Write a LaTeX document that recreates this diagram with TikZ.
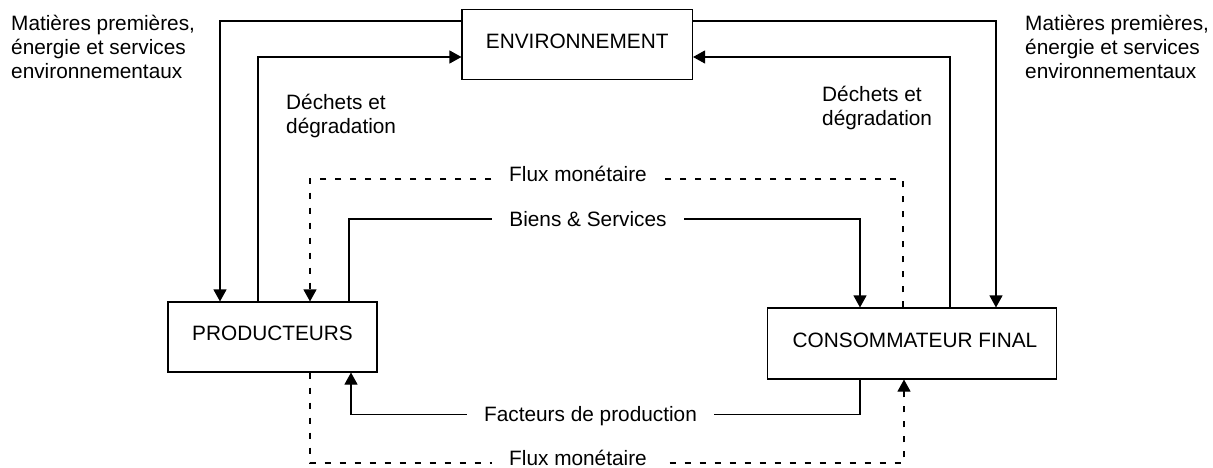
\documentclass[tikz,border=0pt]{standalone}
\usepackage{fontspec}
\setmainfont{Liberation Sans}
\usetikzlibrary{arrows.meta}
\begin{document}
\begin{tikzpicture}[x=1pt,y=-1pt,
  every node/.style={font=\fontsize{20.8}{24}\selectfont},
  box/.style={draw,line width=1.1pt,inner sep=0pt,text height=14.5pt,text depth=7pt},
  conn/.style={line width=1.1pt},
  arr/.style={-{Triangle[width=13pt,length=12pt]}},
  dsh/.style={dash pattern=on 6pt off 9pt},
  lbl/.style={fill=white,inner xsep=17pt,inner ysep=1pt,anchor=base},
  txt/.style={align=left,anchor=north west,inner sep=0pt}]
\useasboundingbox (0,0) rectangle (1213,468);
% boxes
\node[box,minimum width=230.5pt,minimum height=70pt] (env) at (577.25,44.3) {ENVIRONNEMENT};
\node[box,minimum width=209pt,minimum height=70pt] (prod) at (272.5,337) {PRODUCTEURS};
\node[box,minimum width=289pt,minimum height=71pt] (cons) at (912,343.5) {\hspace*{6pt}CONSOMMATEUR FINAL};
% environment flows
\draw[conn,arr] (env.west |- 0,21) -| (prod.north -| 220,0);
\draw[conn,arr] (prod.north -| 258,0) |- (env.west |- 0,57);
\draw[conn,arr] (cons.north -| 950,0) |- (env.east |- 0,57);
\draw[conn,arr] (env.east |- 0,21) -| (cons.north -| 996,0);
% monetary flow top
\draw[conn,dsh,arr] (cons.north -| 903,0) |- (310,179) -- (prod.north -| 310,0);
\node[lbl] (fluxtop) at (578,181.7) {Flux monétaire};
% goods
\draw[conn,arr] (prod.north -| 349,0) |- (860,219) -- (cons.north -| 860,0);
\node[lbl] (biens) at (588,226.7) {Biens \& Services};
% factors
\draw[conn,arr] (cons.south -| 860,0) |- (351,414.5) -- (prod.south -| 351,0);
\node[lbl] (fact) at (590.5,421.7) {Facteurs de production};
% monetary flow bottom
\draw[conn,dsh,arr] (prod.south -| 310,0) |- (904,463) -- (cons.south -| 904,0);
\node[lbl,inner ysep=0.3pt] (fluxbot) at (578,465.8) {Flux monétaire};
% free texts
\node[txt] (mpl) at (11,15) {Matières premières,\\énergie et services\\environnementaux};
\node[txt] (mpr) at (1025,15) {Matières premières,\\énergie et services\\environnementaux};
\node[txt] (dl) at (286,94) {Déchets et\\dégradation};
\node[txt] (dr) at (822,86) {Déchets et\\dégradation};
\end{tikzpicture}
\end{document}
